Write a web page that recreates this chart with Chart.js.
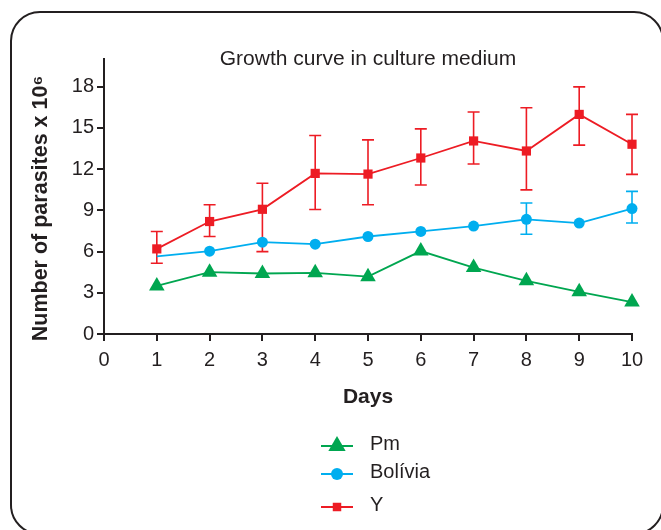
<!DOCTYPE html>
<html>
<head>
<meta charset="utf-8">
<title>Growth curve in culture medium</title>
<script src="https://cdn.jsdelivr.net/npm/chart.js@4.4.1/dist/chart.umd.min.js"></script>
<style>
  html, body { margin: 0; padding: 0; background: #fff; }
  #wrap { position: relative; width: 661px; height: 530px; overflow: hidden; }
  #frame {
    position: absolute; left: 10px; top: 11px; width: 654px; height: 524px;
    box-sizing: border-box; border: 2px solid #231f20; border-radius: 30px;
  }
  #chart { position: absolute; left: 0; top: 0; }
</style>
</head>
<body>
<div id="wrap">
  <div id="frame"></div>
  <canvas id="chart" width="661" height="530"></canvas>
</div>
<script>
'use strict';

// ── DATA ─────────────────────────────────────────────────────────────────────
const DAYS = [1, 2, 3, 4, 5, 6, 7, 8, 9, 10];

const PM      = [3.5, 4.5, 4.4, 4.45, 4.17, 6.03, 4.83, 3.87, 3.07, 2.32];

const BOLIVIA        = [5.65, 6.02, 6.68, 6.53, 7.09, 7.46, 7.85, 8.34, 8.07, 9.12];
const BOLIVIA_ERR_HI = [null, null, null, null, null, null, null, 9.53, null, 10.37];
const BOLIVIA_ERR_LO = [null, null, null, null, null, null, null, 7.26, null, 8.07];

const Y_STRAIN = [6.19, 8.18, 9.07, 11.68, 11.63, 12.8, 14.04, 13.31, 15.97, 13.8];
const Y_ERR_HI = [7.46, 9.4, 10.96, 14.44, 14.12, 14.92, 16.15, 16.46, 17.97, 15.97];
const Y_ERR_LO = [5.15, 7.09, 5.99, 9.06, 9.4, 10.84, 12.36, 10.48, 13.74, 11.61];

const TITLE   = 'Growth curve in culture medium';
const X_TITLE = 'Days';
const Y_TITLE = 'Number of parasites x 10\u2076    ';

// ── THEME ────────────────────────────────────────────────────────────────────
const FONT  = "'Liberation Sans', Arial, Helvetica, sans-serif";
const INK   = '#231f20';
const GREEN = '#00a650';
const CYAN  = '#00aeef';
const RED   = '#ed1c24';

const toPoints = vals => DAYS.map((d, i) => ({ x: d, y: vals[i] }));

// Error bars drawn just before their own dataset so markers sit on top
const errorBarPlugin = {
  id: 'errorBars',
  beforeDatasetDraw(chart, args) {
    const ds = chart.data.datasets[args.index];
    if (!ds.errHi) return;
    const { ctx, scales: { x, y } } = chart;
    const cap = 6;
    ctx.save();
    ctx.strokeStyle = ds.borderColor;
    ctx.lineWidth = 1.6;
    ds.data.forEach((pt, i) => {
      const hi = ds.errHi[i], lo = ds.errLo[i];
      if (hi == null || lo == null) return;
      const px = x.getPixelForValue(pt.x);
      const yHi = y.getPixelForValue(hi);
      const yLo = y.getPixelForValue(lo);
      ctx.beginPath();
      ctx.moveTo(px, yHi); ctx.lineTo(px, yLo);
      ctx.moveTo(px - cap, yHi); ctx.lineTo(px + cap, yHi);
      ctx.moveTo(px - cap, yLo); ctx.lineTo(px + cap, yLo);
      ctx.stroke();
    });
    ctx.restore();
  },
};

// Title centred over the plot area, overlapping its top edge like the original
const titlePlugin = {
  id: 'plotTitle',
  afterDraw(chart) {
    const { ctx, chartArea } = chart;
    ctx.save();
    ctx.font = `21px ${FONT}`;
    ctx.fillStyle = INK;
    ctx.textAlign = 'center';
    ctx.textBaseline = 'middle';
    ctx.fillText(TITLE, (chartArea.left + chartArea.right) / 2, chartArea.top);
    ctx.restore();
  },
};

// Vertical legend below the axis: line segment + marker, then label
const LEGEND_ROWS = [446, 474, 507];
const legendPlugin = {
  id: 'stackLegend',
  afterDraw(chart) {
    const { ctx } = chart;
    const x0 = 321, x1 = 353, tx = 370;
    ctx.save();
    chart.data.datasets.forEach((ds, i) => {
      const yRow = LEGEND_ROWS[i];
      ctx.strokeStyle = ds.borderColor;
      ctx.fillStyle = ds.backgroundColor;
      ctx.lineWidth = 2;
      ctx.beginPath();
      ctx.moveTo(x0, yRow); ctx.lineTo(x1, yRow);
      ctx.stroke();
      Chart.helpers.drawPoint(ctx, {
        pointStyle: ds.pointStyle,
        radius: ds.legendRadius,
        rotation: 0,
        borderWidth: 0,
      }, (x0 + x1) / 2, yRow);
      ctx.fillStyle = INK;
      ctx.font = `20px ${FONT}`;
      ctx.textAlign = 'left';
      ctx.textBaseline = 'middle';
      ctx.fillText(ds.label, tx, yRow - 2);
    });
    ctx.restore();
  },
};

const axisCommon = {
  border: { display: true, color: INK, width: 2 },
  grid: {
    display: true, drawOnChartArea: false, drawTicks: true,
    tickLength: 7, color: INK, lineWidth: 2,
  },
};

new Chart(document.getElementById('chart'), {
  type: 'line',
  data: {
    datasets: [
      {
        label: 'Pm',
        data: toPoints(PM),
        borderColor: GREEN,
        backgroundColor: GREEN,
        borderWidth: 1.8,
        pointStyle: 'triangle',
        pointRadius: 9,
        pointBorderWidth: 0,
        legendRadius: 10,
        clip: false,
      },
      {
        label: 'Bolívia',
        data: toPoints(BOLIVIA),
        errHi: BOLIVIA_ERR_HI,
        errLo: BOLIVIA_ERR_LO,
        borderColor: CYAN,
        backgroundColor: CYAN,
        borderWidth: 1.8,
        pointStyle: 'circle',
        pointRadius: [0, 5.5, 5.5, 5.5, 5.5, 5.5, 5.5, 5.5, 5.5, 5.5],
        pointBorderWidth: 0,
        legendRadius: 6,
        clip: false,
      },
      {
        label: 'Y',
        data: toPoints(Y_STRAIN),
        errHi: Y_ERR_HI,
        errLo: Y_ERR_LO,
        borderColor: RED,
        backgroundColor: RED,
        borderWidth: 1.8,
        pointStyle: 'rect',
        pointRadius: 6.5,
        pointBorderWidth: 0,
        legendRadius: 6,
        clip: false,
      },
    ],
  },
  options: {
    responsive: false,
    animation: false,
    events: [],
    layout: { padding: { top: 59, right: 29, bottom: 120, left: 0 } },
    plugins: {
      legend: { display: false },
      tooltip: { enabled: false },
      title: { display: false },
    },
    scales: {
      x: {
        ...axisCommon,
        type: 'linear',
        min: 0,
        max: 10,
        ticks: { stepSize: 1, color: INK, padding: 7, font: { family: FONT, size: 20 } },
        title: {
          display: true, text: X_TITLE, color: INK,
          font: { family: FONT, size: 21, weight: 'bold' }, padding: 0,
        },
        afterFit: s => { s.height = 76; },
      },
      y: {
        ...axisCommon,
        type: 'linear',
        min: 0,
        max: 20,
        ticks: {
          stepSize: 3, includeBounds: false, color: INK, padding: 3,
          font: { family: FONT, size: 20 },
        },
        title: {
          display: true, text: Y_TITLE, color: INK,
          font: { family: FONT, size: 21.5, weight: 'bold' },
          padding: { top: 28, bottom: 0 },
        },
        afterFit: s => { s.width = 104; },
      },
    },
  },
  plugins: [errorBarPlugin, titlePlugin, legendPlugin],
});
</script>
</body>
</html>
